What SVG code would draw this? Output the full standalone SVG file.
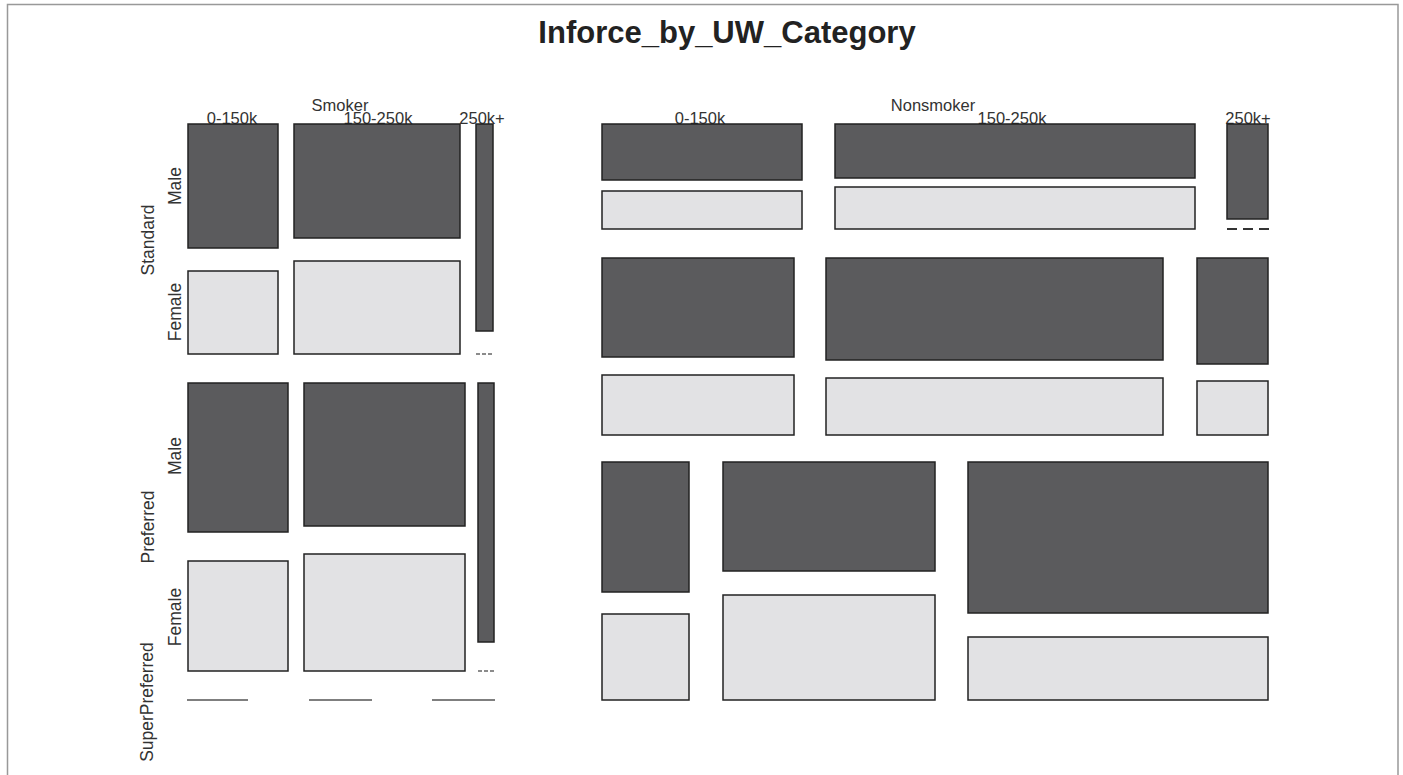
<svg xmlns="http://www.w3.org/2000/svg" width="1403" height="775" viewBox="0 0 1403 775">
<style>
text{font-family:"Liberation Sans",Arial,sans-serif;fill:#333}
.title{font-size:31px;font-weight:bold;fill:#222}
.lab{font-size:16.5px}
.rl{font-size:17.5px}
.d{fill:#5b5b5d;stroke:#222;stroke-width:1.5}
.l{fill:#e2e2e4;stroke:#222;stroke-width:1.5}
.z{stroke:#555;stroke-width:1.5;fill:none}
.zd{stroke:#666;stroke-width:1.5;fill:none;stroke-dasharray:4 2}
.zn{stroke:#333;stroke-width:2;fill:none;stroke-dasharray:10 6}
</style>
<rect x="7.5" y="4.5" width="1390.5" height="780" fill="#fff" stroke="#999" stroke-width="1.5"/>
<text class="title" x="727" y="43" text-anchor="middle">Inforce_by_UW_Category</text>
<g id="labels">
<text class="lab" x="340" y="111" text-anchor="middle">Smoker</text>
<text class="lab" x="232" y="124" text-anchor="middle">0-150k</text>
<text class="lab" x="378" y="124" text-anchor="middle">150-250k</text>
<text class="lab" x="482" y="124" text-anchor="middle">250k+</text>
<text class="lab" x="933" y="111" text-anchor="middle">Nonsmoker</text>
<text class="lab" x="700" y="124" text-anchor="middle">0-150k</text>
<text class="lab" x="1012" y="124" text-anchor="middle">150-250k</text>
<text class="lab" x="1248" y="124" text-anchor="middle">250k+</text>
<text class="rl" transform="translate(154,240) rotate(-90)" text-anchor="middle">Standard</text>
<text class="rl" transform="translate(181,186) rotate(-90)" text-anchor="middle">Male</text>
<text class="rl" transform="translate(181,312) rotate(-90)" text-anchor="middle">Female</text>
<text class="rl" transform="translate(154,527) rotate(-90)" text-anchor="middle">Preferred</text>
<text class="rl" transform="translate(181,456) rotate(-90)" text-anchor="middle">Male</text>
<text class="rl" transform="translate(181,617) rotate(-90)" text-anchor="middle">Female</text>
<text class="rl" transform="translate(153,702) rotate(-90)" text-anchor="middle">SuperPreferred</text>
</g>
<g id="smoker">
<rect class="d" x="188" y="124" width="90" height="124"/>
<rect class="d" x="294" y="124" width="166" height="114"/>
<rect class="d" x="476" y="124" width="17" height="207"/>
<rect class="l" x="188" y="271" width="90" height="83"/>
<rect class="l" x="294" y="261" width="166" height="93"/>
<line class="zd" x1="476" y1="354" x2="494" y2="354"/>
<rect class="d" x="188" y="383" width="100" height="149"/>
<rect class="d" x="304" y="383" width="161" height="143"/>
<rect class="d" x="478" y="383" width="16" height="259"/>
<rect class="l" x="188" y="561" width="100" height="110"/>
<rect class="l" x="304" y="554" width="161" height="117"/>
<line class="zd" x1="478" y1="671" x2="494" y2="671"/>
<line class="z" x1="187" y1="700" x2="248" y2="700"/>
<line class="z" x1="309" y1="700" x2="372" y2="700"/>
<line class="z" x1="432" y1="700" x2="495" y2="700"/>
</g>
<g id="nonsmoker">
<rect class="d" x="602" y="124" width="200" height="56"/>
<rect class="d" x="835" y="124" width="360" height="54"/>
<rect class="d" x="1227" y="124" width="41" height="95"/>
<rect class="l" x="602" y="191" width="200" height="38"/>
<rect class="l" x="835" y="187" width="360" height="42"/>
<line class="zn" x1="1227" y1="229" x2="1269" y2="229"/>
<rect class="d" x="602" y="258" width="192" height="99"/>
<rect class="d" x="826" y="258" width="337" height="102"/>
<rect class="d" x="1197" y="258" width="71" height="106"/>
<rect class="l" x="602" y="375" width="192" height="60"/>
<rect class="l" x="826" y="378" width="337" height="57"/>
<rect class="l" x="1197" y="381" width="71" height="54"/>
<rect class="d" x="602" y="462" width="87" height="130"/>
<rect class="d" x="723" y="462" width="212" height="109"/>
<rect class="d" x="968" y="462" width="300" height="151"/>
<rect class="l" x="602" y="614" width="87" height="86"/>
<rect class="l" x="723" y="595" width="212" height="105"/>
<rect class="l" x="968" y="637" width="300" height="63"/>
</g>
</svg>
